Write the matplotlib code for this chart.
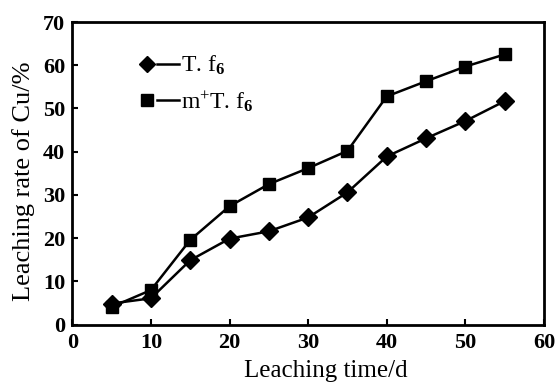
import matplotlib
matplotlib.use("Agg")
import matplotlib.pyplot as plt
from matplotlib.lines import Line2D
from matplotlib.legend_handler import HandlerTuple

plt.rcParams['font.family'] = ['Liberation Serif', 'DejaVu Serif']
plt.rcParams['mathtext.fontset'] = 'custom'
plt.rcParams['mathtext.rm'] = 'Liberation Serif'
plt.rcParams['mathtext.it'] = 'Liberation Serif'
plt.rcParams['mathtext.bf'] = 'Liberation Serif:bold'

days = [5, 10, 15, 20, 25, 30, 35, 40, 45, 50, 55]
tf6 = [4.9, 6.1, 14.9, 19.9, 21.6, 24.8, 30.6, 38.9, 43.1, 47.1, 51.7]
mtf6 = [4.1, 8.0, 19.6, 27.4, 32.5, 36.2, 40.2, 52.8, 56.3, 59.7, 62.5]
xticks = [0, 10, 20, 30, 40, 50, 60]
yticks = [0, 10, 20, 30, 40, 50, 60, 70]
label_tf6 = "T. f$_{\\mathbf{6}}$"
label_mtf6 = "m$^{+}$T. f$_{\\mathbf{6}}$"

fig = plt.figure(figsize=(5.57, 3.85), dpi=100)
ax = fig.add_axes([72.3/557, (385-324.7)/385, (544-72.3)/557, (324.7-22)/385])

ax.plot(days, tf6, color='black', lw=1.8, marker='D', markersize=9)
ax.plot(days, mtf6, color='black', lw=1.8, marker='s', markersize=9)

ax.set_xlim(0, 60)
ax.set_ylim(0, 70)
ax.set_xticks(xticks)
ax.set_yticks(yticks)
ax.tick_params(direction='in', length=4, width=1.5, labelsize=16)
ax.tick_params(axis='x', pad=6)
ax.tick_params(axis='y', pad=5)
for lab in ax.get_xticklabels() + ax.get_yticklabels():
    lab.set_fontweight('bold')
for s in ax.spines.values():
    s.set_linewidth(2)

ax.set_xlabel("Leaching time/d", fontsize=18)
ax.set_ylabel("Leaching rate of Cu/%", fontsize=19)
ax.xaxis.set_label_coords(0.538, -0.118)
ax.yaxis.set_label_coords(-0.079, 0.475)

h1 = (Line2D([], [], color='black', marker='D', markersize=8.5, ls='none'),
      Line2D([], [], color='black', lw=1.8))
h2 = (Line2D([], [], color='black', marker='s', markersize=8.5, ls='none'),
      Line2D([], [], color='black', lw=1.8))
leg = ax.legend([h1, h2], [label_tf6, label_mtf6],
                handler_map={tuple: HandlerTuple(ndivide=None, pad=0)},
                loc='upper left', bbox_to_anchor=(0.09, 0.965), frameon=False,
                fontsize=17, handlelength=1.8, handletextpad=0.1, labelspacing=0.5)

fig.savefig("out.png", dpi=100)
